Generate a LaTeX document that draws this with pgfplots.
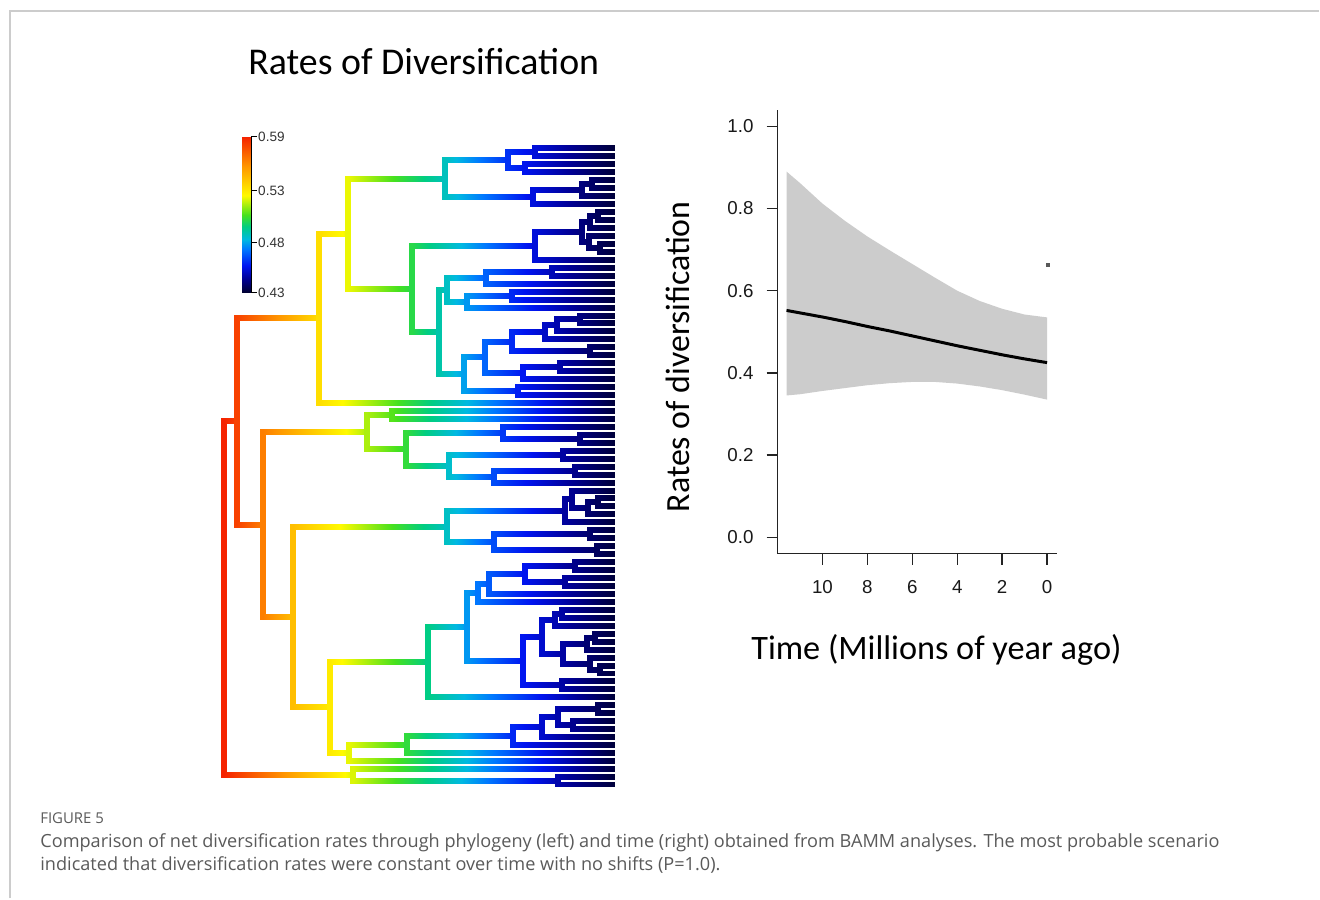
\documentclass[border=0pt]{standalone}
\usepackage{pgfplots}
\pgfplotsset{compat=1.18}
\usepackage{pgfplotstable}
\usepackage{fontspec}
\setmainfont{Carlito}
\newfontfamily\arialf{Liberation Sans}
\newfontfamily\capf{Open Sans}

\definecolor{bordergray}{RGB}{204,204,204}
\definecolor{capgray}{RGB}{90,90,90}
\definecolor{bandgray}{RGB}{204,204,204}
\definecolor{axisdark}{RGB}{35,35,35}

% tree branches in pixel coordinates (x1 y1 x2 y2)
\pgfplotstableread{
x1 y1 x2 y2
224 421.2 224 774.85
224 421.2 237 421.2
224 774.85 353 774.85
237 318.1 237 524.35
237 318.1 319 318.1
237 524.35 263 524.35
319 233.5 319 402.7
319 233.5 348 233.5
319 402.7 615 402.7
348 178.4 348 288.6
348 178.4 445 178.4
348 288.6 412 288.6
445 160 445 196.75
445 160 508 160
445 196.75 533 196.75
508 152 508 167.9
508 152 535 152
508 167.9 525 167.9
535 148 535 156
535 148 615 148
535 156 615 156
525 163.9 525 171.9
525 163.9 615 163.9
525 171.9 615 171.9
533 189.8 533 203.7
533 189.8 582 189.8
533 203.7 615 203.7
582 183.8 582 195.8
582 183.8 592 183.8
582 195.8 615 195.8
592 179.8 592 187.8
592 179.8 615 179.8
592 187.8 615 187.8
412 245.5 412 331.65
412 245.5 535 245.5
412 331.65 439 331.65
535 231.6 535 259.4
535 231.6 582 231.6
535 259.4 615 259.4
582 221.6 582 241.55
582 221.6 590 221.6
582 241.55 589 241.55
590 215.65 590 227.6
590 215.65 598 215.65
590 227.6 615 227.6
598 211.7 598 219.6
598 211.7 615 211.7
598 219.6 615 219.6
589 235.6 589 247.5
589 235.6 615 235.6
589 247.5 600 247.5
600 243.5 600 251.5
600 243.5 615 243.5
600 251.5 615 251.5
439 289.3 439 374
439 289.3 447 289.3
439 374 464 374
447 277.35 447 301.2
447 277.35 486 277.35
447 301.2 467 301.2
486 271.4 486 283.3
486 271.4 552 271.4
486 283.3 615 283.3
552 267.4 552 275.4
552 267.4 615 267.4
552 275.4 615 275.4
467 295.25 467 307.2
467 295.25 512 295.25
467 307.2 615 307.2
512 291.3 512 299.2
512 291.3 615 291.3
512 299.2 615 299.2
464 357.2 464 390.8
464 357.2 485 357.2
464 390.8 518 390.8
518 386.8 518 394.8
518 386.8 615 386.8
518 394.8 615 394.8
485 341.5 485 372.85
485 341.5 512 341.5
485 372.85 523 372.85
523 366.9 523 378.8
523 366.9 560 366.9
523 378.8 615 378.8
560 362.9 560 370.9
560 362.9 615 362.9
560 370.9 615 370.9
512 332.05 512 351
512 332.05 545 332.05
512 351 590 351
590 347 590 355
590 347 615 347
590 355 615 355
545 325.1 545 339
545 325.1 557 325.1
545 339 615 339
557 319.15 557 331.1
557 319.15 580 319.15
557 331.1 615 331.1
580 315.2 580 323.1
580 315.2 615 315.2
580 323.1 615 323.1
263 431.8 263 616.9
263 431.8 367 431.8
263 616.9 293 616.9
367 414.65 367 449
367 414.65 392 414.65
367 449 406 449
392 410.7 392 418.6
392 410.7 615 410.7
392 418.6 615 418.6
406 432.6 406 465.4
406 432.6 503 432.6
406 465.4 449 465.4
503 426.6 503 438.55
503 426.6 615 426.6
503 438.55 580 438.55
580 434.6 580 442.5
580 434.6 615 434.6
580 442.5 615 442.5
449 454.45 449 476.35
449 454.45 563 454.45
449 476.35 494 476.35
563 450.5 563 458.4
563 450.5 615 450.5
563 458.4 615 458.4
494 470.4 494 482.3
494 470.4 575 470.4
494 482.3 615 482.3
575 466.4 575 474.4
575 466.4 615 466.4
575 474.4 615 474.4
293 526.4 293 707.35
293 526.4 447 526.4
293 707.35 330 707.35
447 510.7 447 542
447 510.7 565 510.7
447 542 494 542
565 499.25 565 522.1
565 499.25 572 499.25
565 522.1 615 522.1
572 490.3 572 508.2
572 490.3 615 490.3
572 508.2 588 508.2
588 502.2 588 514.2
588 502.2 598 502.2
588 514.2 615 514.2
598 498.2 598 506.2
598 498.2 615 498.2
598 506.2 615 506.2
494 534.05 494 550
494 534.05 590 534.05
494 550 597 550
590 530.1 590 538
590 530.1 615 530.1
590 538 615 538
597 546 597 554
597 546 615 546
597 554 615 554
330 662 330 752.7
330 662 428 662
330 752.7 349 752.7
428 626.8 428 697.2
428 626.8 467 626.8
428 697.2 615 697.2
467 592.75 467 660.9
467 592.75 478 592.75
467 660.9 523 660.9
478 583.8 478 601.7
478 583.8 489 583.8
478 601.7 615 601.7
489 573.85 489 593.8
489 573.85 525 573.85
489 593.8 615 593.8
525 565.9 525 581.8
525 565.9 575 565.9
525 581.8 565 581.8
575 561.9 575 569.9
575 561.9 615 561.9
575 569.9 615 569.9
565 577.8 565 585.8
565 577.8 615 577.8
565 585.8 615 585.8
523 636.5 523 685.3
523 636.5 542 636.5
523 685.3 562 685.3
562 681.3 562 689.3
562 681.3 615 681.3
562 689.3 615 689.3
542 619.6 542 653.45
542 619.6 555 619.6
542 653.45 563 653.45
555 613.65 555 625.6
555 613.65 562 613.65
555 625.6 615 625.6
562 609.7 562 617.6
562 609.7 615 609.7
562 617.6 615 617.6
563 643.5 563 663.4
563 643.5 587 643.5
563 663.4 590 663.4
587 637.55 587 649.5
587 637.55 595 637.55
587 649.5 615 649.5
595 633.6 595 641.5
595 633.6 615 633.6
595 641.5 615 641.5
590 657.4 590 669.4
590 657.4 615 657.4
590 669.4 600 669.4
600 665.4 600 673.4
600 665.4 615 665.4
600 673.4 615 673.4
349 744.5 349 760.9
349 744.5 407 744.5
349 760.9 615 760.9
407 736 407 753
407 736 513 736
407 753 615 753
513 727.1 513 745
513 727.1 542 727.1
513 745 615 745
542 717.15 542 737
542 717.15 558 717.15
542 737 615 737
558 709.2 558 725.1
558 709.2 598 709.2
558 725.1 573 725.1
598 705.2 598 713.2
598 705.2 615 705.2
598 713.2 615 713.2
573 721.1 573 729.1
573 721.1 615 721.1
573 729.1 615 729.1
353 768.9 353 780.8
353 768.9 615 768.9
353 780.8 558 780.8
558 776.8 558 784.8
558 776.8 615 776.8
558 784.8 615 784.8
}\treesegs

% net diversification rate through time (t in Mya)
\pgfplotstableread{
t v
11.6 0.890
11.0 0.862
10.0 0.812
9.0 0.770
8.0 0.732
7.0 0.698
6.0 0.665
5.0 0.632
4.0 0.600
3.0 0.575
2.0 0.556
1.0 0.542
0.0 0.535
0.0 0.335
1.0 0.347
2.0 0.358
3.0 0.367
4.0 0.374
5.0 0.378
6.0 0.378
7.0 0.375
8.0 0.370
9.0 0.363
10.0 0.356
11.0 0.348
11.6 0.345
}\bandpoly

\pgfplotstableread{
t v
11.6 0.552
10.0 0.536
9.0 0.525
8.0 0.513
7.0 0.502
6.0 0.490
5.0 0.478
4.0 0.466
3.0 0.455
2.0 0.444
1.0 0.434
0.0 0.425
}\meanrate

% branch rectangles, coloured by rate along each branch
\pgfplotstablegetrowsof{\treesegs}
\pgfmathtruncatemacro{\lastrow}{\pgfplotsretval-1}
\def\bw{2.5}
\def\ratefn#1{ifthenelse(#1<293,0.59-(#1-224)*0.000609,ifthenelse(#1<412,0.548-(#1-293)*0.000361,ifthenelse(#1<500,0.505-(#1-412)*0.000455,0.465-(#1-500)*0.000287)))}
\gdef\allpatches{}
\foreach \r in {0,...,\lastrow}{%
  \pgfplotstablegetelem{\r}{x1}\of\treesegs\let\xa\pgfplotsretval
  \pgfplotstablegetelem{\r}{y1}\of\treesegs\let\ya\pgfplotsretval
  \pgfplotstablegetelem{\r}{x2}\of\treesegs\let\xb\pgfplotsretval
  \pgfplotstablegetelem{\r}{y2}\of\treesegs\let\yb\pgfplotsretval
  \pgfmathsetmacro\ca{\ratefn{\xa}}%
  \pgfmathsetmacro\cb{\ratefn{\xb}}%
  \pgfmathsetmacro\isv{ifthenelse(\xa==\xb,1,0)}%
  \pgfmathsetmacro\ox{\isv*\bw}%
  \pgfmathsetmacro\oy{(1-\isv)*\bw}%
  \pgfmathsetmacro\ey{\isv*\bw}%
  \pgfmathsetmacro\pax{\xa-\ox}\pgfmathsetmacro\pay{\ya-\oy-\ey}%
  \pgfmathsetmacro\pbx{\xb-\ox}\pgfmathsetmacro\pby{\yb-\oy+\ey}%
  \pgfmathsetmacro\pcx{\xb+\ox}\pgfmathsetmacro\pcy{\yb+\oy+\ey}%
  \pgfmathsetmacro\pdx{\xa+\ox}\pgfmathsetmacro\pdy{\ya+\oy-\ey}%
  \xdef\allpatches{\allpatches (\pax,\pay) [\ca] (\pbx,\pby) [\cb] (\pcx,\pcy) [\cb] (\pdx,\pdy) [\ca] }%
}

\pgfplotsset{
  colormap={rates}{
    rgb255(0pt)=(0,0,45);
    rgb255(15pt)=(0,0,150);
    rgb255(28pt)=(0,20,240);
    rgb255(45pt)=(0,120,255);
    rgb255(55pt)=(0,185,225);
    rgb255(68pt)=(0,205,130);
    rgb255(80pt)=(70,225,30);
    rgb255(100pt)=(255,250,0);
    rgb255(130pt)=(255,150,0);
    rgb255(160pt)=(245,35,0)
  }
}

\begin{document}
\begin{tikzpicture}
\fill[white] (0,0) rectangle (660bp,449.5bp);
\begin{axis}[
  at={(0,0)}, anchor=south west,
  scale only axis, width=660bp, height=449.5bp,
  xmin=0, xmax=1320, ymin=0, ymax=899, y dir=reverse,
  hide axis, clip=false,
  colormap name=rates,
  point meta min=0.43, point meta max=0.59,
]
% frame lines
\addplot[draw=bordergray, line width=0.8bp] coordinates {(10,899) (10,11) (1320,11)};
% phylogeny
\edef\doplot{\noexpand\addplot[patch, patch type=rectangle, shader=interp, point meta=explicit] coordinates {\allpatches};}
\doplot
% colour bar
\addplot[patch, patch type=rectangle, shader=interp, point meta=explicit]
  coordinates {(242,293) [0.43] (251,293) [0.43] (251,137) [0.59] (242,137) [0.59]};
\addplot[black, line width=0.5bp] coordinates {(252,136.5) (252,293.5)};
\addplot[black, line width=0.5bp] coordinates {(252,137) (257,137)};
\addplot[black, line width=0.5bp] coordinates {(252,191) (257,191)};
\addplot[black, line width=0.5bp] coordinates {(252,243) (257,243)};
\addplot[black, line width=0.5bp] coordinates {(252,293) (257,293)};
\node[anchor=west, font=\arialf\fontsize{6.8}{7}\selectfont, text=black!80, inner sep=0pt] at (axis cs:258,137) {0.59};
\node[anchor=west, font=\arialf\fontsize{6.8}{7}\selectfont, text=black!80, inner sep=0pt] at (axis cs:258,191) {0.53};
\node[anchor=west, font=\arialf\fontsize{6.8}{7}\selectfont, text=black!80, inner sep=0pt] at (axis cs:258,243) {0.48};
\node[anchor=west, font=\arialf\fontsize{6.8}{7}\selectfont, text=black!80, inner sep=0pt] at (axis cs:258,293) {0.43};
% titles and labels
\node[font=\fontsize{19}{22}\selectfont, inner sep=0pt] at (axis cs:424,62) {Rates of Diversification};
\node[font=\fontsize{17}{20}\selectfont, rotate=90, inner sep=0pt] at (axis cs:678,357) {Rates of diversification};
\node[font=\fontsize{17.2}{20}\selectfont, inner sep=0pt] at (axis cs:937,650) {Time (Millions of year ago)};
% caption
\node[anchor=west, font=\capf\fontsize{7.5}{8}\selectfont, text=capgray, inner sep=0pt] at (axis cs:40,819) {FIGURE 5};
\node[anchor=west, font=\capf\fontsize{9.1}{10}\selectfont, text=capgray, inner sep=0pt] at (axis cs:40,843) {Comparison of net diversification rates through phylogeny (left) and time (right) obtained from BAMM analyses. The most probable scenario};
\node[anchor=west, font=\capf\fontsize{9.1}{10}\selectfont, text=capgray, inner sep=0pt] at (axis cs:40,866) {indicated that diversification rates were constant over time with no shifts (P=1.0).};
\end{axis}

\begin{axis}[
  at={(389bp,172.5bp)}, anchor=south west,
  scale only axis, width=140bp, height=222bp,
  xmin=-12.0, xmax=0.46, ymin=-0.04, ymax=1.04,
  axis x line*=bottom, axis y line*=left,
  axis line style={axisdark, line width=0.7bp},
  tick align=outside, major tick length=5.5bp,
  tick style={axisdark, line width=0.7bp},
  xtick={-10,-8,-6,-4,-2,0}, xticklabels={10,8,6,4,2,0},
  ytick={0,0.2,0.4,0.6,0.8,1}, yticklabels={0.0,0.2,0.4,0.6,0.8,1.0},
  ticklabel style={font=\arialf\fontsize{9.4}{11}\selectfont, text=black!90},
  xticklabel style={yshift=-4.5bp},
  yticklabel style={xshift=-3bp},
  clip=false,
]
\addplot[fill=bandgray, draw=none] table[x expr=-\thisrow{t}, y=v] {\bandpoly};
\addplot[black, line width=1.5bp] table[x expr=-\thisrow{t}, y=v] {\meanrate};
\addplot[only marks, mark=square*, mark size=0.7bp, color=black!65] coordinates {(0.05,0.663)};
\end{axis}
\end{tikzpicture}
\end{document}
